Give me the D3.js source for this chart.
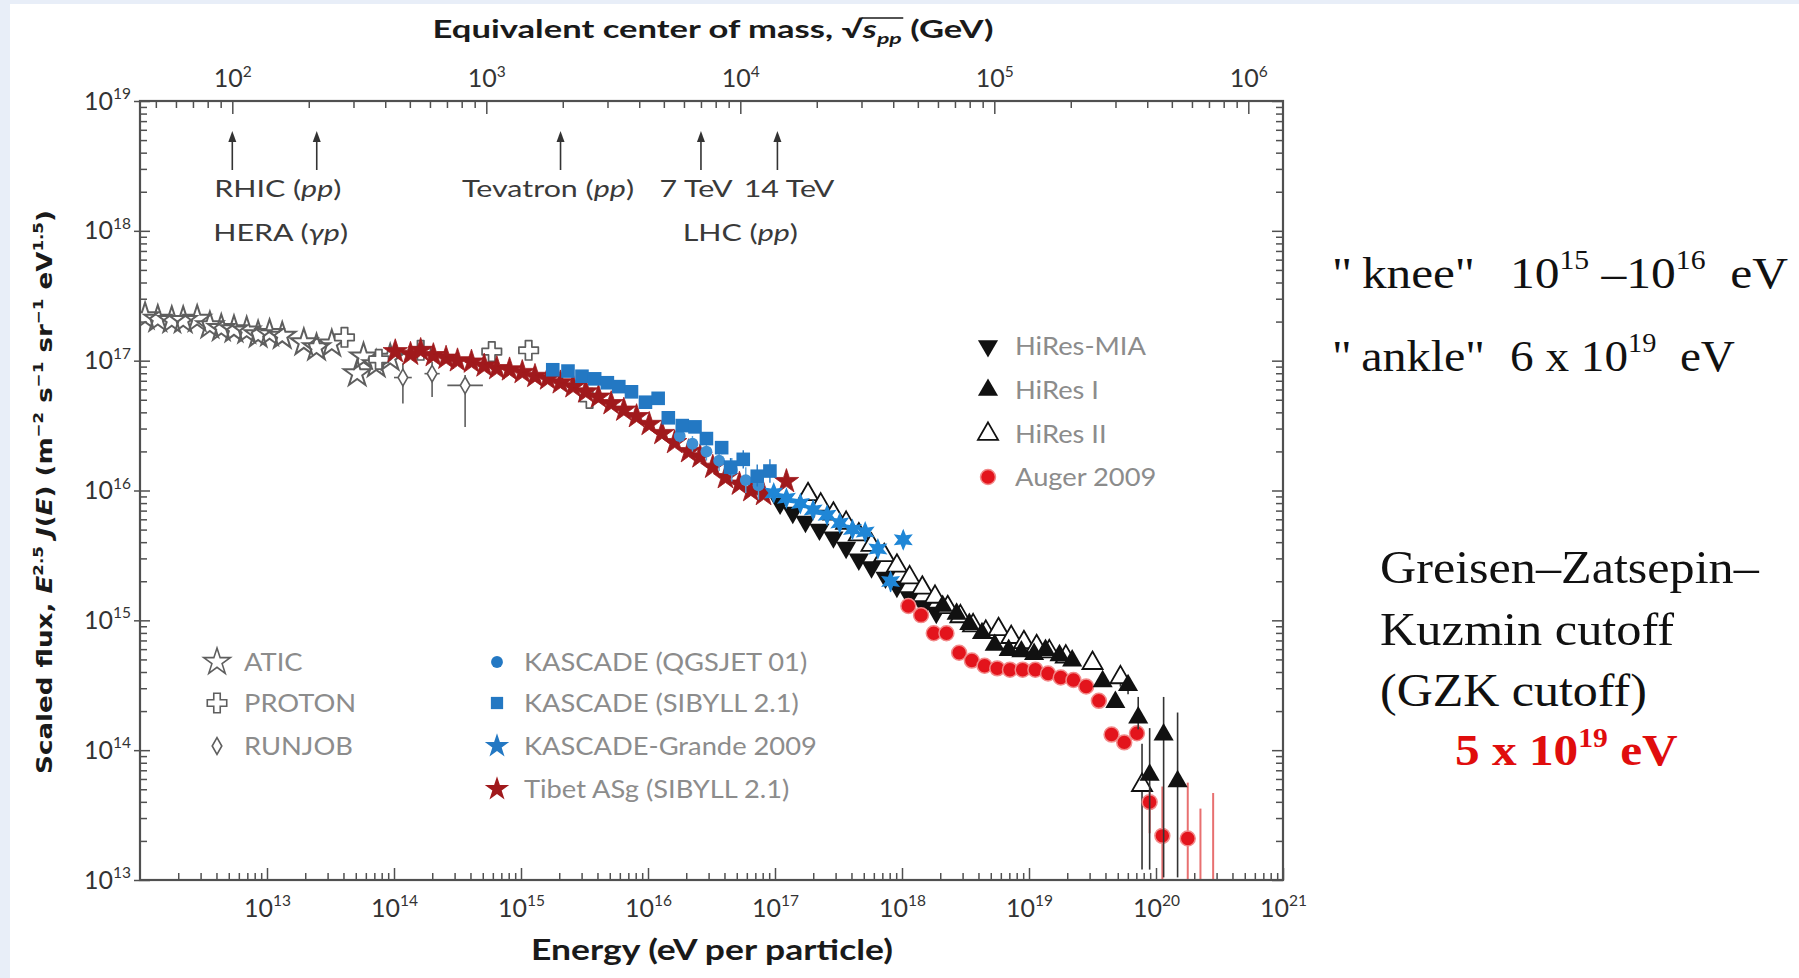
<!DOCTYPE html>
<html>
<head>
<meta charset="utf-8">
<title>Cosmic-ray energy spectrum</title>
<script src="https://cdn.jsdelivr.net/npm/d3@7"></script>
<style>
  html, body { margin: 0; padding: 0; background: #ffffff; }
  svg { display: block; }
</style>
</head>
<body>
<svg id="chart" width="1799" height="978"></svg>
<script>
// ---------------------------------------------------------------------------
// Data: log10 of energy per particle (eV) and log10 of scaled flux E^2.5 J(E)
// ---------------------------------------------------------------------------
const aticLogE = [12.04, 12.14, 12.25, 12.34, 12.45, 12.55, 12.64, 12.74, 12.84, 12.93, 13.02, 13.12, 13.29, 13.39, 13.51, 13.71, 13.76, 13.86, 13.97];
const aticLogF = [17.34, 17.32, 17.31, 17.31, 17.32, 17.27, 17.25, 17.24, 17.23, 17.20, 17.21, 17.19, 17.14, 17.10, 17.13, 16.90, 17.03, 16.97, 17.02];

const protonLogE = [13.61, 13.88, 14.21, 14.77, 15.06, 15.54];
const protonLogF = [17.18, 17.01, 17.08, 17.07, 17.08, 16.71];

const runjobLogE = [14.07, 14.30, 14.56];
const runjobLogF = [16.87, 16.90, 16.81];
const runjobErrLo = [16.67, 16.72, 16.49];
const runjobErrHi = [16.98, 16.99, 16.89];
const runjobELo = [14.00, 14.24, 14.42];
const runjobEHi = [14.14, 14.36, 14.70];

const tibetLogE = [14.01, 14.13, 14.21, 14.31, 14.41, 14.50, 14.61, 14.71, 14.81, 14.91, 15.01, 15.11, 15.21, 15.31, 15.41, 15.51, 15.61, 15.71, 15.81, 15.91, 16.01, 16.11, 16.21, 16.32, 16.41, 16.51, 16.61, 16.72, 16.81, 16.91, 17.09];
const tibetLogF = [17.07, 17.05, 17.08, 17.04, 17.02, 17.00, 16.99, 16.96, 16.94, 16.93, 16.91, 16.88, 16.86, 16.83, 16.80, 16.76, 16.72, 16.67, 16.62, 16.57, 16.51, 16.44, 16.37, 16.30, 16.26, 16.18, 16.10, 16.05, 16.00, 15.97, 16.07];

const kascadeQgsLogE = [16.25, 16.35, 16.46, 16.56, 16.66, 16.77, 16.87];
const kascadeQgsLogF = [16.42, 16.36, 16.30, 16.23, 16.16, 16.08, 16.04];
const kascadeQgsErrLo = [16.37, 16.30, 16.23, 16.15, 16.07, 15.98, 15.93];
const kascadeQgsErrHi = [16.47, 16.42, 16.37, 16.31, 16.25, 16.18, 16.15];

const kascadeSibLogE = [15.25, 15.37, 15.48, 15.58, 15.68, 15.77, 15.87, 15.98, 16.08, 16.16, 16.27, 16.37, 16.46, 16.58, 16.65, 16.75, 16.86, 16.96];
const kascadeSibLogF = [16.93, 16.92, 16.88, 16.86, 16.83, 16.80, 16.76, 16.68, 16.71, 16.56, 16.50, 16.49, 16.40, 16.33, 16.18, 16.24, 16.11, 16.15];
const kascadeSibErrLo = [null, null, null, null, null, null, null, null, null, null, null, null, 16.36, 16.28, 16.12, 16.17, 16.03, 16.06];
const kascadeSibErrHi = [null, null, null, null, null, null, null, null, null, null, null, null, 16.44, 16.38, 16.25, 16.31, 16.20, 16.24];

const grandeLogE = [16.99, 17.09, 17.20, 17.30, 17.41, 17.51, 17.61, 17.71, 17.81, 17.91, 18.01];
const grandeLogF = [15.98, 15.94, 15.90, 15.85, 15.81, 15.75, 15.70, 15.68, 15.55, 15.30, 15.62];
const grandeErrLo = [null, null, null, null, null, null, null, null, 15.50, 15.22, 15.55];
const grandeErrHi = [null, null, null, null, null, null, null, null, 15.60, 15.37, 15.69];

const hiresMiaLogE = [17.04, 17.14, 17.24, 17.35, 17.46, 17.56, 17.66, 17.76, 17.87, 17.96, 18.06, 18.17, 18.27];
const hiresMiaLogF = [15.90, 15.83, 15.76, 15.70, 15.64, 15.56, 15.47, 15.41, 15.33, 15.26, 15.18, 15.11, 15.06];

const hires1LogE = [18.32, 18.43, 18.53, 18.63, 18.73, 18.84, 18.94, 19.04, 19.13, 19.24, 19.34, 19.58, 19.68, 19.78, 19.86, 19.95, 20.06, 20.17];
const hires1LogF = [15.11, 15.05, 14.97, 14.90, 14.81, 14.77, 14.76, 14.74, 14.77, 14.73, 14.69, 14.53, 14.37, 14.50, 14.25, 13.81, 14.12, 13.76];
const hires1ErrLo = [null, null, null, null, null, null, null, null, null, null, null, null, null, 14.43, 14.16, 13.08, 13.02, 13.02];
const hires1ErrHi = [null, null, null, null, null, null, null, null, null, null, null, null, null, 14.57, 14.41, 14.17, 14.41, 14.29];

const hires2LogE = [17.26, 17.36, 17.46, 17.56, 17.66, 17.76, 17.86, 17.96, 18.06, 18.16, 18.26, 18.36, 18.46, 18.56, 18.66, 18.76, 18.86, 18.96, 19.06, 19.16, 19.29, 19.50, 19.72, 19.89];
const hires2LogF = [15.97, 15.89, 15.82, 15.75, 15.66, 15.58, 15.50, 15.42, 15.33, 15.25, 15.18, 15.10, 15.03, 14.96, 14.91, 14.93, 14.87, 14.83, 14.80, 14.76, 14.72, 14.67, 14.56, 13.73];
const hires2ErrLo = [null, null, null, null, null, null, null, null, null, null, null, null, null, null, null, null, null, null, null, null, null, null, 14.49, 13.08];
const hires2ErrHi = [null, null, null, null, null, null, null, null, null, null, null, null, null, null, null, null, null, null, null, null, null, null, 14.64, 14.05];

const augerLogE = [18.05, 18.15, 18.25, 18.35, 18.45, 18.55, 18.65, 18.75, 18.85, 18.95, 19.05, 19.15, 19.25, 19.35, 19.45, 19.55, 19.65, 19.75, 19.85, 19.95, 20.05, 20.25];
const augerLogF = [15.11, 15.04, 14.90, 14.90, 14.75, 14.69, 14.65, 14.63, 14.62, 14.62, 14.62, 14.59, 14.56, 14.54, 14.49, 14.38, 14.12, 14.06, 14.13, 13.60, 13.34, 13.32];
const augerErrLo = [null, null, null, null, null, null, null, null, null, null, null, null, null, null, null, null, null, null, null, 13.36, 12.90, 12.90];
const augerErrHi = [null, null, null, null, null, null, null, null, null, null, null, null, null, null, null, null, null, null, null, 13.68, 13.72, 13.75];
const augerLimitLogE = [20.35, 20.45];
const augerLimitLogF = [13.55, 13.67];

// Axis tick labels (powers of ten)
const energyTickExponents = [13, 14, 15, 16, 17, 18, 19, 20, 21];
const fluxTickExponents = [13, 14, 15, 16, 17, 18, 19];
const cmTickExponents = [2, 3, 4, 5, 6];

// Collider centre-of-mass energies, sqrt(s) in GeV
const colliderGeV = [100, 215, 1960, 7000, 14000];

// ---------------------------------------------------------------------------
const W = 1799, H = 978;
const plot = { left: 140, right: 1283, top: 101, bottom: 880 };
const sansFont = 'Lato, "Open Sans", sans-serif';
const serifFont = '"Liberation Serif", "Times New Roman", serif';
const axisColor = '#505050';
const grey = '#5e5e5e';
const legendGrey = '#8c8c8c';
const blue = '#2378c3';
const darkRed = '#a0191c';
const augerRed = '#e3141c';

const pow10 = p => Math.pow(10, p);
const x = d3.scaleLog().domain([1e12, 1e21]).range([plot.left, plot.right]);
const y = d3.scaleLog().domain([1e13, 1e19]).range([plot.bottom, plot.top]);
// equivalent pp centre-of-mass energy for a cosmic ray hitting a proton at rest
const protonMassGeV = 0.938;
const sqrtS = e => Math.sqrt(2 * protonMassGeV * e / 1e9);
const xTop = d3.scaleLog().domain([sqrtS(1e12), sqrtS(1e21)]).range([plot.left, plot.right]);

function minorTicks(lo, hi, domain) {
  const t = [];
  for (let e = lo; e <= hi; e++) for (let k = 2; k < 10; k++) {
    const v = k * Math.pow(10, e);
    if (v > domain[0] && v < domain[1]) t.push(v);
  }
  return t;
}

document.fonts.ready.then(draw);

function draw() {
  const svg = d3.select('#chart');
  svg.append('rect').attr('width', W).attr('height', H).attr('fill', '#ffffff');
  svg.append('rect').attr('width', W).attr('height', 4).attr('fill', '#e8eef8');
  svg.append('rect').attr('width', 10).attr('height', H).attr('fill', '#e8eef8');

  // ---- axes -------------------------------------------------------------
  function styleTicks(g, width) {
    g.select('.domain').remove();
    g.selectAll('.tick line').attr('stroke', axisColor).attr('stroke-width', width || 1.5);
  }
  function powerLabels(g, exps, size) {
    g.selectAll('.tick text').each(function (d, i) {
      const t = d3.select(this).text(null)
        .attr('font-family', sansFont).attr('font-size', size).attr('fill', '#333');
      t.append('tspan').text('10');
      t.append('tspan').attr('font-size', size * 0.62).attr('dy', -size * 0.42).text(exps[i]);
    });
  }

  const energyTicks = energyTickExponents.map(pow10);
  const fluxTicks = fluxTickExponents.map(pow10);
  const cmTicks = cmTickExponents.map(pow10);

  // bottom
  svg.append('g').attr('transform', `translate(0,${plot.bottom})`)
    .call(d3.axisBottom(x).tickValues(minorTicks(12, 20, x.domain())).tickSizeInner(-7).tickSizeOuter(0).tickFormat(() => ''))
    .call(styleTicks);
  const gB = svg.append('g').attr('transform', `translate(0,${plot.bottom})`)
    .call(d3.axisBottom(x).tickValues(energyTicks).tickSizeInner(-12).tickSizeOuter(0).tickPadding(19))
    .call(styleTicks);
  powerLabels(gB, energyTickExponents, 25);

  // top (equivalent centre-of-mass energy)
  svg.append('g').attr('transform', `translate(0,${plot.top})`)
    .call(d3.axisTop(xTop).tickValues(minorTicks(1, 6, xTop.domain())).tickSizeInner(-7).tickSizeOuter(0).tickFormat(() => ''))
    .call(styleTicks);
  const gT = svg.append('g').attr('transform', `translate(0,${plot.top})`)
    .call(d3.axisTop(xTop).tickValues(cmTicks).tickSizeInner(-13).tickSizeOuter(0).tickPadding(14))
    .call(styleTicks);
  powerLabels(gT, cmTickExponents, 25);

  // left
  svg.append('g').attr('transform', `translate(${plot.left},0)`)
    .call(d3.axisLeft(y).tickValues(minorTicks(13, 18, y.domain())).tickSizeInner(-7).tickSizeOuter(0).tickFormat(() => ''))
    .call(styleTicks);
  svg.append('g').attr('transform', `translate(${plot.left},0)`)
    .call(d3.axisLeft(y).tickValues(fluxTicks).tickSizeInner(-10).tickSizeOuter(0).tickFormat(() => ''))
    .call(styleTicks);
  const gL = svg.append('g').attr('transform', `translate(${plot.left},0)`)
    .call(d3.axisLeft(y).tickValues(fluxTicks).tickSizeInner(6).tickSizeOuter(0).tickPadding(3))
    .call(styleTicks);
  powerLabels(gL, fluxTickExponents, 25);

  // right
  svg.append('g').attr('transform', `translate(${plot.right},0)`)
    .call(d3.axisRight(y).tickValues(minorTicks(13, 18, y.domain())).tickSizeInner(-7).tickSizeOuter(0).tickFormat(() => ''))
    .call(styleTicks);
  svg.append('g').attr('transform', `translate(${plot.right},0)`)
    .call(d3.axisRight(y).tickValues(fluxTicks).tickSizeInner(-11).tickSizeOuter(0).tickFormat(() => ''))
    .call(styleTicks);

  // ---- markers ----------------------------------------------------------
  svg.append('clipPath').attr('id', 'plot-clip').append('rect')
    .attr('x', plot.left).attr('y', plot.top)
    .attr('width', plot.right - plot.left).attr('height', plot.bottom - plot.top);
  const layer = svg.append('g').attr('clip-path', 'url(#plot-clip)');

  const points = (logE, logF) => d3.zip(logE, logF).map(([e, f]) => ({ e: pow10(e), f: pow10(f) }));
  const sym = (type, size) => d3.symbol().type(type).size(size)();
  function star6(r) {
    const pts = d3.range(12).map(i => {
      const a = Math.PI / 6 * i - Math.PI / 2, rr = i % 2 ? r * 0.48 : r;
      return [rr * Math.cos(a), rr * Math.sin(a)];
    });
    return 'M' + pts.map(p => p.join(',')).join('L') + 'Z';
  }
  const shapes = {
    atic: sym(d3.symbolStar, 220),
    proton: sym(d3.symbolCross, 210),
    runjob: sym(d3.symbolDiamond, 80),
    tibet: sym(d3.symbolStar, 185),
    circle: sym(d3.symbolCircle, 110),
    square: sym(d3.symbolSquare, 185),
    grande: star6(11),
    triangle: sym(d3.symbolTriangle, 175),
    auger: sym(d3.symbolCircle, 175)
  };

  function marks(data, shape, style, rotate) {
    const sel = layer.append('g').selectAll('path').data(data).join('path')
      .attr('d', shape)
      .attr('transform', d => `translate(${x(d.e)},${y(d.f)})` + (rotate ? ` rotate(${rotate})` : ''));
    Object.entries(style).forEach(([k, v]) => sel.attr(k, v));
  }
  function errorBars(logE, lo, hi, color, width) {
    const rows = logE.map((e, i) => ({ e: pow10(e), lo: lo[i], hi: hi[i] })).filter(d => d.lo != null);
    layer.append('g').selectAll('line').data(rows).join('line')
      .attr('x1', d => x(d.e)).attr('x2', d => x(d.e))
      .attr('y1', d => y(pow10(d.lo))).attr('y2', d => y(pow10(d.hi)))
      .attr('stroke', color).attr('stroke-width', width);
  }

  // low-energy direct measurements
  marks(points(aticLogE, aticLogF), shapes.atic, { fill: 'none', stroke: grey, 'stroke-width': 2 });
  errorBars(runjobLogE, runjobErrLo, runjobErrHi, grey, 1.6);
  layer.append('g').selectAll('line').data(runjobLogE.map((e, i) => i)).join('line')
    .attr('x1', i => x(pow10(runjobELo[i]))).attr('x2', i => x(pow10(runjobEHi[i])))
    .attr('y1', i => y(pow10(runjobLogF[i]))).attr('y2', i => y(pow10(runjobLogF[i])))
    .attr('stroke', grey).attr('stroke-width', 1.6);
  marks(points(protonLogE, protonLogF), shapes.proton, { fill: '#fff', stroke: grey, 'stroke-width': 1.7, 'stroke-linejoin': 'round' });
  marks(points(runjobLogE, runjobLogF), shapes.runjob, { fill: '#fff', stroke: grey, 'stroke-width': 1.6 });

  // air-shower arrays
  marks(points(tibetLogE, tibetLogF), shapes.tibet, { fill: darkRed, stroke: darkRed, 'stroke-width': 0.8 });
  errorBars(kascadeQgsLogE, kascadeQgsErrLo, kascadeQgsErrHi, '#5aa3dc', 1.4);
  marks(points(kascadeQgsLogE, kascadeQgsLogF), shapes.circle, { fill: '#3d8fd3' });
  errorBars(kascadeSibLogE, kascadeSibErrLo, kascadeSibErrHi, blue, 1.4);
  marks(points(kascadeSibLogE, kascadeSibLogF), shapes.square, { fill: blue });
  marks(points(hiresMiaLogE, hiresMiaLogF), shapes.triangle, { fill: '#111' }, 180);
  errorBars(hires2LogE, hires2ErrLo, hires2ErrHi, '#333', 1.6);
  marks(points(hires2LogE, hires2LogF), shapes.triangle, { fill: '#fff', stroke: '#111', 'stroke-width': 1.8 });
  errorBars(grandeLogE, grandeErrLo, grandeErrHi, blue, 1.4);
  marks(points(grandeLogE, grandeLogF), shapes.grande, { fill: '#1f86d6' });

  // Auger
  errorBars(augerLogE, augerErrLo, augerErrHi, '#e87070', 2);
  errorBars(augerLimitLogE, augerLimitLogE.map(() => 12.9), augerLimitLogF, '#e87070', 2);
  marks(points(augerLogE, augerLogF), shapes.auger, { fill: augerRed, stroke: '#f28a8a', 'stroke-width': 1.5 });

  // HiRes I
  errorBars(hires1LogE, hires1ErrLo, hires1ErrHi, '#333', 1.6);
  marks(points(hires1LogE, hires1LogF), shapes.triangle, { fill: '#111' });

  // frame
  svg.append('rect').attr('x', plot.left).attr('y', plot.top)
    .attr('width', plot.right - plot.left).attr('height', plot.bottom - plot.top)
    .attr('fill', 'none').attr('stroke', axisColor).attr('stroke-width', 2.2);

  // ---- collider arrows ------------------------------------------------
  const arrows = svg.append('g');
  colliderGeV.forEach(v => {
    const ax = xTop(v);
    arrows.append('line').attr('x1', ax).attr('x2', ax).attr('y1', 170).attr('y2', 138)
      .attr('stroke', '#333').attr('stroke-width', 1.6);
    arrows.append('path').attr('d', `M${ax},131L${ax - 4},142L${ax + 4},142Z`).attr('fill', '#333');
  });
  const colliderText = [
    { at: 151, y: 197, parts: [['RHIC (', 0], ['pp', 1], [')', 0]] },
    { at: 155, y: 241, parts: [['HERA (', 0], ['γp', 1], [')', 0]] },
    { at: 1750, y: 197, parts: [['Tevatron (', 0], ['pp', 1], [')', 0]] },
    { at: 6690, y: 197, parts: [['7 TeV', 0]] },
    { at: 15550, y: 197, parts: [['14 TeV', 0]] },
    { at: 10000, y: 241, parts: [['LHC (', 0], ['pp', 1], [')', 0]] }
  ];
  const labelGroups = colliderText.map(r => {
    const g = arrows.append('g').attr('transform', `translate(${xTop(r.at)},${r.y})`);
    const t = g.append('text').attr('text-anchor', 'middle').attr('font-family', sansFont)
      .attr('font-size', 23).attr('fill', '#3a3a3a');
    r.parts.forEach(([s, it]) => t.append('tspan').attr('font-style', it ? 'italic' : 'normal').text(s));
    return { g, t, r };
  });
  const kLab = 172 / labelGroups[2].t.node().getBBox().width;
  labelGroups.forEach(({ g, r }) => g.attr('transform', `translate(${xTop(r.at)},${r.y}) scale(${kLab},1)`));

  // ---- axis titles ----------------------------------------------------
  const gTitle = svg.append('g');
  const title = gTitle.append('text').attr('x', 0).attr('y', 0).attr('text-anchor', 'middle')
    .attr('font-family', sansFont).attr('font-weight', 700).attr('font-size', 24).attr('fill', '#1a1a1a');
  title.append('tspan').text('Equivalent center of mass, ');
  title.append('tspan').text('√');
  title.append('tspan').attr('font-style', 'italic').text('s');
  title.append('tspan').attr('font-style', 'italic').attr('font-size', 16).attr('dy', 6).text('pp');
  title.append('tspan').attr('dy', -6).text(' (GeV)');
  const tn = title.node();
  const sStart = tn.getStartPositionOfChar(28).x, ppEnd = tn.getEndPositionOfChar(30).x;
  gTitle.append('line').attr('x1', sStart - 1).attr('x2', ppEnd + 1).attr('y1', -20).attr('y2', -20)
    .attr('stroke', '#1a1a1a').attr('stroke-width', 1.6);
  const kTitle = 561 / tn.getBBox().width;
  gTitle.attr('transform', `translate(713,38) scale(${kTitle},1)`);

  const gXT = svg.append('g');
  const xt = gXT.append('text').attr('text-anchor', 'middle').attr('font-family', sansFont)
    .attr('font-weight', 700).attr('font-size', 28).attr('fill', '#1a1a1a').text('Energy (eV per particle)');
  gXT.attr('transform', `translate(712,960) scale(${362 / xt.node().getBBox().width},1)`);

  const gYT = svg.append('g');
  const yt = gYT.append('text').attr('text-anchor', 'middle').attr('font-family', '"DejaVu Sans", Verdana, sans-serif')
    .attr('font-weight', 700).attr('font-size', 22).attr('fill', '#1a1a1a');
  const supY = (txt) => { yt.append('tspan').attr('font-size', 14).attr('dy', -9).text(txt); };
  const base = (txt, it) => { yt.append('tspan').attr('font-style', it ? 'italic' : 'normal').attr('dy', 0).text(txt); };
  yt.append('tspan').text('Scaled flux, ');
  yt.append('tspan').attr('font-style', 'italic').text('E');
  supY('2.5');
  yt.append('tspan').attr('dy', 9).text(' ');
  base('J', 1); base('('); base('E', 1); base(') (m');
  supY('−2'); yt.append('tspan').attr('dy', 9).text(' s');
  supY('−1'); yt.append('tspan').attr('dy', 9).text(' sr');
  supY('−1'); yt.append('tspan').attr('dy', 9).text(' eV');
  supY('1.5'); yt.append('tspan').attr('dy', 9).text(')');
  gYT.attr('transform', `translate(52,492) rotate(-90) scale(${564 / yt.node().getBBox().width},1)`);

  // ---- legends ----------------------------------------------------------
  const legend = svg.append('g');
  const legendItems = [
    { x: 217, y: 662, shape: shapes.atic, style: { fill: 'none', stroke: grey, 'stroke-width': 1.6 }, label: 'ATIC' },
    { x: 217, y: 703, shape: shapes.proton, style: { fill: '#fff', stroke: grey, 'stroke-width': 1.6 }, label: 'PROTON' },
    { x: 217, y: 746, shape: shapes.runjob, style: { fill: '#fff', stroke: grey, 'stroke-width': 1.6 }, label: 'RUNJOB' },
    { x: 497, y: 662, shape: shapes.circle, style: { fill: blue }, label: 'KASCADE (QGSJET 01)' },
    { x: 497, y: 703, shape: sym(d3.symbolSquare, 150), style: { fill: blue }, label: 'KASCADE (SIBYLL 2.1)' },
    { x: 497, y: 746, shape: shapes.tibet, style: { fill: blue }, label: 'KASCADE-Grande 2009' },
    { x: 497, y: 789, shape: shapes.tibet, style: { fill: darkRed }, label: 'Tibet ASg (SIBYLL 2.1)' },
    { x: 988, y: 346, shape: shapes.triangle, style: { fill: '#111' }, rot: 180, label: 'HiRes-MIA' },
    { x: 988, y: 390, shape: shapes.triangle, style: { fill: '#111' }, label: 'HiRes I' },
    { x: 988, y: 434, shape: shapes.triangle, style: { fill: '#fff', stroke: '#111', 'stroke-width': 1.8 }, label: 'HiRes II' },
    { x: 988, y: 477, shape: shapes.auger, style: { fill: augerRed, stroke: '#f28a8a', 'stroke-width': 1.5 }, label: 'Auger 2009' }
  ];
  const legendTexts = legendItems.map(it => {
    const p = legend.append('path').attr('d', it.shape)
      .attr('transform', `translate(${it.x},${it.y})` + (it.rot ? ` rotate(${it.rot})` : ''));
    Object.entries(it.style).forEach(([k, v]) => p.attr(k, v));
    const g = legend.append('g');
    const t = g.append('text').attr('dy', '0.36em').attr('font-family', sansFont)
      .attr('font-size', 25).attr('fill', legendGrey).text(it.label);
    return { g, t, it };
  });
  const kLeg = 293 / legendTexts[5].t.node().getBBox().width;
  legendTexts.forEach(({ g, it }) => g.attr('transform', `translate(${it.x + 27},${it.y}) scale(${kLeg},1)`));

  // ---- annotations on the right ---------------------------------------
  const notes = svg.append('g').attr('font-family', serifFont).attr('fill', '#111');
  // each phrase is set in Times-like type and stretched to its slot width
  function phrase(px, py, width, build) {
    const g = notes.append('g');
    const t = g.append('text');
    build(t);
    g.attr('transform', `translate(${px},${py}) scale(${width / t.node().getBBox().width},1)`);
    return t;
  }
  const withPower = (t, before, exp, after, size, weight) => {
    t.attr('font-size', size).attr('font-weight', weight || 400);
    t.append('tspan').text(before);
    t.append('tspan').attr('font-size', size * 0.6).attr('dy', -size * 0.42).text(exp);
    t.append('tspan').attr('dy', size * 0.42).text(after);
  };
  phrase(1332, 288, 143, t => t.attr('font-size', 45).text('"\u2009knee"'));
  phrase(1510, 288, 278, t => {
    t.attr('font-size', 45);
    t.append('tspan').text('10');
    t.append('tspan').attr('font-size', 27).attr('dy', -19).text('15');
    t.append('tspan').attr('dy', 19).text(' \u201310');
    t.append('tspan').attr('font-size', 27).attr('dy', -19).text('16');
    t.append('tspan').attr('dy', 19).text('\u00a0\u00a0eV');
  });
  phrase(1332, 371, 153, t => t.attr('font-size', 45).text('"\u2009ankle"'));
  phrase(1510, 371, 225, t => withPower(t, '6 x 10', '19', '\u00a0\u00a0eV', 45));

  const gzkLines = [['Greisen\u2013Zatsepin\u2013', 583, 380], ['Kuzmin cutoff', 645, 295], ['(GZK cutoff)', 706, 267]];
  gzkLines.forEach(([s, by, w]) => phrase(1380, by, w, t => t.attr('font-size', 46).text(s)));
  const red = phrase(1455, 765, 223, t => withPower(t, '5 x 10', '19', ' eV', 44, 700));
  red.attr('fill', '#e00d0d');
}
</script>
</body>
</html>
